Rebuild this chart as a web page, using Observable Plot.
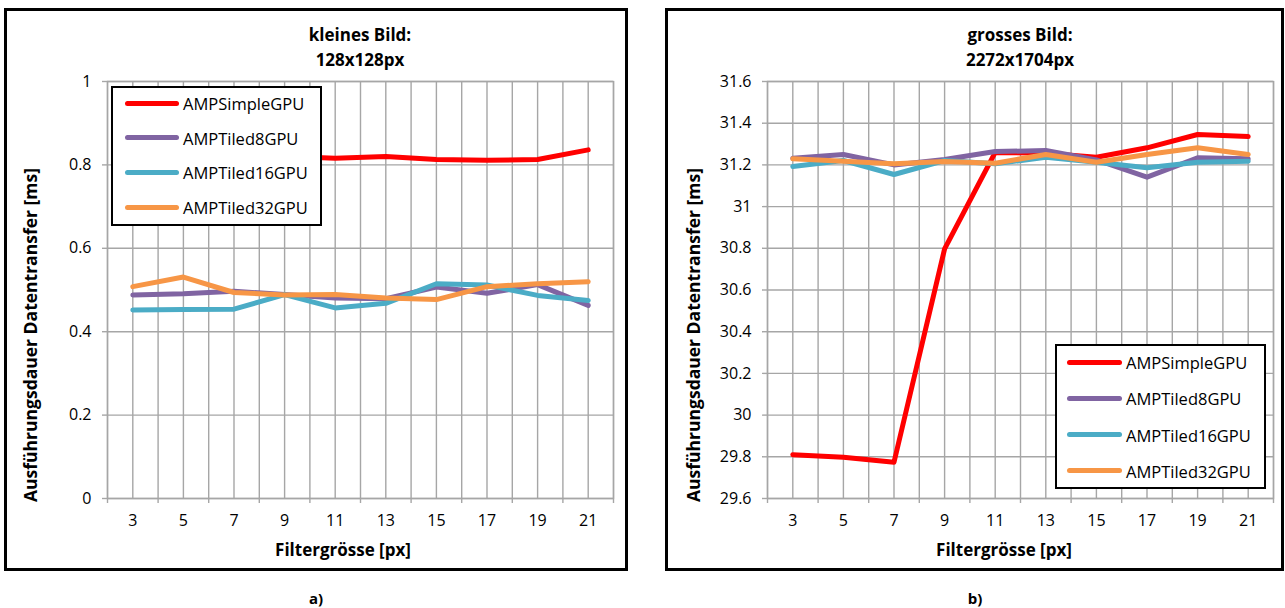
<!DOCTYPE html>
<html>
<head>
<meta charset="utf-8">
<script src="https://cdn.jsdelivr.net/npm/d3@7"></script>
<script src="https://cdn.jsdelivr.net/npm/@observablehq/plot@0.6"></script>
<style>
  html, body { margin: 0; padding: 0; background: #fff; }
  #page { position: relative; width: 1285px; height: 608px; overflow: hidden; font-family: "Open Sans", Lato, sans-serif; color: #000; }
  .frame { position: absolute; border: 3px solid #000; box-sizing: border-box; }
  .abs { position: absolute; white-space: nowrap; }
  .title { font-weight: bold; font-size: 17px; text-align: center; line-height: 25px; }
  .xlab { font-weight: bold; font-size: 17px; transform: translate(-50%, -50%); }
  .ylab { font-weight: bold; font-size: 17.5px; transform: translate(-50%, -50%) rotate(-90deg); }
  .cap { font-weight: bold; font-size: 15px; transform: translate(-50%, -50%); }
  .legend { position: absolute; border: 2.5px solid #000; background: #fff; box-sizing: border-box; }
  .lg-line { position: absolute; height: 5px; border-radius: 3px; }
  .lg-text { position: absolute; font-size: 16.5px; transform: translateY(-50%); white-space: nowrap; }
  svg { position: absolute; top: 0; }
</style>
</head>
<body>
<div id="page"></div>
<script>
// ---- data ----
const filterSizes = [3, 5, 7, 9, 11, 13, 15, 17, 19, 21];
const seriesNames = ["AMPSimpleGPU", "AMPTiled8GPU", "AMPTiled16GPU", "AMPTiled32GPU"];
const seriesColors = ["#ff0000", "#8064a2", "#4bacc6", "#f79646"];

// a) kleines Bild 128x128px
const smallSimple  = [0.820, 0.820, 0.820, 0.821, 0.816, 0.820, 0.813, 0.811, 0.813, 0.836];
const smallTiled8  = [0.488, 0.491, 0.497, 0.489, 0.481, 0.479, 0.507, 0.492, 0.513, 0.463];
const smallTiled16 = [0.452, 0.453, 0.454, 0.489, 0.457, 0.468, 0.515, 0.512, 0.487, 0.475];
const smallTiled32 = [0.508, 0.531, 0.494, 0.488, 0.489, 0.481, 0.477, 0.508, 0.515, 0.520];
const smallYTicks = [0, 0.2, 0.4, 0.6, 0.8, 1];

// b) grosses Bild 2272x1704px
const bigSimple  = [29.810, 29.798, 29.774, 30.797, 31.260, 31.256, 31.237, 31.282, 31.346, 31.336];
const bigTiled8  = [31.232, 31.250, 31.200, 31.226, 31.264, 31.269, 31.224, 31.141, 31.234, 31.229];
const bigTiled16 = [31.192, 31.221, 31.154, 31.221, 31.205, 31.237, 31.213, 31.186, 31.213, 31.218];
const bigTiled32 = [31.229, 31.218, 31.205, 31.216, 31.208, 31.250, 31.213, 31.250, 31.282, 31.250];
const bigYTicks = [29.6, 29.8, 30, 30.2, 30.4, 30.6, 30.8, 31, 31.2, 31.4, 31.6];

const yTitle = "Ausführungsdauer Datentransfer [ms]";
const xTitle = "Filtergrösse [px]";

// ---- helpers ----
const page = document.getElementById("page");
const gray = "#a6a6a6";

function tidy(seriesArrays) {
  const rows = [];
  seriesArrays.forEach((vals, i) => {
    vals.forEach((v, j) => rows.push({size: filterSizes[j], series: seriesNames[i], value: v}));
  });
  return rows;
}

function add(html) {
  page.insertAdjacentHTML("beforeend", html);
}

function makePanel(cfg) {
  const rows = tidy(cfg.series);
  const xMin = filterSizes[0] - 1, xMax = filterSizes[filterSizes.length - 1] + 1;
  const gridXs = d3.range(xMin, xMax + 1);
  const boundaryTicks = d3.range(xMin, xMax + 1, 2);
  const fmt = d => String(+(+d).toFixed(1));
  const svg = Plot.plot({
    width: cfg.width,
    height: 580,
    marginLeft: 107,
    marginRight: cfg.marginRight,
    marginTop: 81,
    marginBottom: 82,
    x: {domain: [xMin, xMax], axis: null},
    y: {domain: [cfg.yTicks[0], cfg.yTicks[cfg.yTicks.length - 1]], axis: null},
    color: {domain: seriesNames, range: seriesColors},
    style: {fontFamily: "'Open Sans', Lato, sans-serif", fontSize: "16px", background: "transparent", overflow: "visible"},
    marks: [
      Plot.gridX(gridXs, {stroke: gray, strokeOpacity: 1, strokeWidth: 1.4}),
      Plot.gridY(cfg.yTicks, {stroke: gray, strokeOpacity: 1, strokeWidth: 1.4}),
      Plot.frame({stroke: gray, strokeWidth: 1.4}),
      Plot.axisY(cfg.yTicks, {tickSize: 5, stroke: gray, strokeWidth: 1.4, tickFormat: () => "", label: null}),
      Plot.axisY(cfg.yTicks, {tickSize: 0, tickPadding: 16, color: "black", fontSize: 16, tickFormat: fmt, label: null}),
      Plot.axisX(boundaryTicks, {tickSize: 5, stroke: gray, strokeWidth: 1.4, tickFormat: () => "", label: null}),
      Plot.axisX(filterSizes, {tickSize: 0, tickPadding: 16, color: "black", fontSize: 16, label: null}),
      Plot.line(rows, {x: "size", y: "value", z: "series", stroke: "series", strokeWidth: 5, strokeLinejoin: "round", strokeLinecap: "round"})
    ]
  });
  svg.style.left = cfg.left + "px";
  page.appendChild(svg);
}

// ---- frames ----
add(`<div class="frame" style="left:4px;top:8px;width:624px;height:563px;"></div>`);
add(`<div class="frame" style="left:665px;top:8px;width:619px;height:563px;"></div>`);

// ---- panels ----
makePanel({left: 0, width: 640, marginRight: 27, yTicks: smallYTicks,
  series: [smallSimple, smallTiled8, smallTiled16, smallTiled32]});
makePanel({left: 660, width: 625, marginRight: 12, yTicks: bigYTicks,
  series: [bigSimple, bigTiled8, bigTiled16, bigTiled32]});

// ---- titles ----
add(`<div class="abs title" style="left:210px;top:22px;width:300px;">kleines Bild:<br>128x128px</div>`);
add(`<div class="abs title" style="left:870px;top:22px;width:300px;">grosses Bild:<br>2272x1704px</div>`);

// ---- axis titles ----
add(`<div class="abs xlab" style="left:343px;top:549px;">${xTitle}</div>`);
add(`<div class="abs xlab" style="left:1004px;top:549px;">${xTitle}</div>`);
add(`<div class="abs ylab" style="left:30px;top:335px;">${yTitle}</div>`);
add(`<div class="abs ylab" style="left:693px;top:335px;">${yTitle}</div>`);

// ---- captions ----
add(`<div class="abs cap" style="left:316px;top:598px;">a)</div>`);
add(`<div class="abs cap" style="left:975px;top:598px;">b)</div>`);

// ---- legends ----
function legend(box, firstY, dy, lineX, lineW, textX) {
  add(`<div class="legend" style="left:${box[0]}px;top:${box[1]}px;width:${box[2]}px;height:${box[3]}px;"></div>`);
  seriesNames.forEach((name, i) => {
    const y = firstY + i * dy;
    add(`<div class="lg-line" style="left:${lineX}px;top:${y - 2.5}px;width:${lineW}px;background:${seriesColors[i]};"></div>`);
    add(`<div class="lg-text" style="left:${textX}px;top:${y}px;">${name}</div>`);
  });
}
legend([111, 86, 211, 140], 103, 34.7, 125, 54, 183);
legend([1055, 344, 211, 145], 362, 36.3, 1067, 55, 1126);
</script>
</body>
</html>
